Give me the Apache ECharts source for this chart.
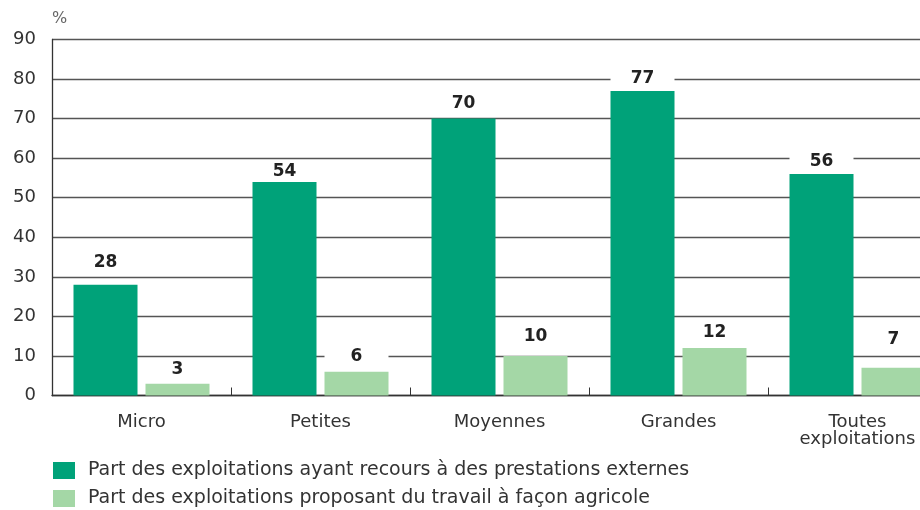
<!DOCTYPE html>
<html>
<head>
<meta charset="utf-8">
<script src="https://cdn.jsdelivr.net/npm/echarts@6/dist/echarts.min.js"></script>
<style>
  html, body { margin: 0; padding: 0; background: #fff; }
  #chart { width: 920px; height: 510px; }
</style>
</head>
<body>
<div id="chart"></div>
<script>
var categories = ['Micro', 'Petites', 'Moyennes', 'Grandes', 'Toutes\nexploitations']
var seriesNames = [
  'Part des exploitations ayant recours à des prestations externes',
  'Part des exploitations proposant du travail à façon agricole'
]
var externes = [28, 54, 70, 77, 56]
var facon = [3, 6, 10, 12, 7]
var yTicks = [0, 10, 20, 30, 40, 50, 60, 70, 80, 90]

var font = '"DejaVu Sans", "Noto Sans", sans-serif'

// décalage des étiquettes au-dessus des barres (comme sur l'original)
var liftExternes = [13, 1, 6, 3, 3]
var liftFacon = [5, 6, 10, 6, 19]

function barLabel (distance) {
  return {
    show: true,
    position: 'top',
    distance: distance,
    color: '#222',
    fontSize: 17,
    fontWeight: 'bold',
    fontFamily: font,
    backgroundColor: '#fff',
    width: 64,
    align: 'center',
    padding: [2, 0, 1, 0]
  }
}

function withLabels (values, lifts) {
  return values.map(function (v, i) {
    return { value: v, label: barLabel(lifts[i]) }
  })
}

function legendFor (name, top) {
  return {
    orient: 'horizontal',
    left: 48,
    top: top,
    itemWidth: 22,
    itemHeight: 17,
    icon: 'rect',
    itemGap: 0,
    textStyle: { color: '#333', fontSize: 19, fontFamily: font, padding: [0, 0, 0, 8] },
    data: [name]
  }
}

var chart = echarts.init(document.getElementById('chart'))
chart.setOption({
  animation: false,
  textStyle: { fontFamily: font },
  grid: {
    left: 52,
    width: 895,
    top: 39.5,
    height: 356,
    outerBoundsMode: 'none',
    containLabel: false
  },
  legend: [
    legendFor(seriesNames[0], 456),
    legendFor(seriesNames[1], 484)
  ],
  xAxis: {
    type: 'category',
    data: categories,
    boundaryGap: true,
    axisLine: { lineStyle: { color: '#333', width: 1.3 } },
    axisTick: { show: true, inside: true, length: 8, lineStyle: { color: '#333' } },
    axisLabel: { color: '#333', fontSize: 18, margin: 18, lineHeight: 17, fontFamily: font }
  },
  yAxis: {
    type: 'value',
    min: yTicks[0],
    max: yTicks[yTicks.length - 1],
    interval: 10,
    name: '%',
    nameLocation: 'end',
    nameGap: 13,
    nameTextStyle: { color: '#666', fontSize: 16, align: 'left', fontFamily: font },
    axisLine: { show: true, lineStyle: { color: '#333', width: 1.3 } },
    axisTick: { show: false },
    axisLabel: { color: '#333', fontSize: 18, margin: 16, fontFamily: font },
    splitLine: { lineStyle: { color: '#555', width: 1.3 } }
  },
  series: [
    {
      name: seriesNames[0],
      type: 'bar',
      data: withLabels(externes, liftExternes),
      barWidth: 64,
      barGap: '12.5%',
      itemStyle: { color: '#00a279' },
      z: 3
    },
    {
      name: seriesNames[1],
      type: 'bar',
      data: withLabels(facon, liftFacon),
      barWidth: 64,
      itemStyle: { color: '#a4d7a6' },
      z: 3
    }
  ]
})
</script>
</body>
</html>
